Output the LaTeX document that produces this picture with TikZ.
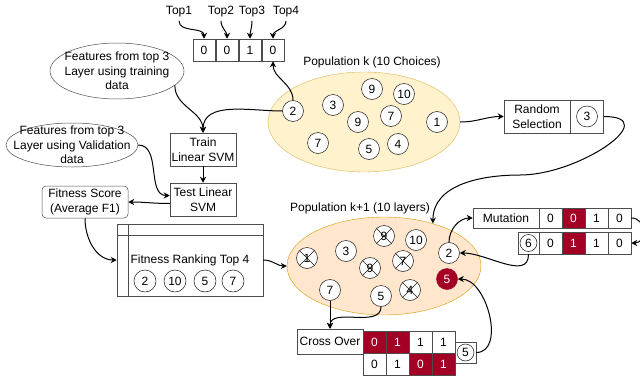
\documentclass[tikz,border=0pt]{standalone}
\usepackage{fontspec}
\setmainfont{Liberation Sans}
\usetikzlibrary{positioning, shapes.geometric, arrows.meta}
\definecolor{selred}{HTML}{A20025}
\definecolor{popfill}{HTML}{FFF2CC}
\definecolor{popline}{HTML}{D6B656}
\definecolor{nextfill}{HTML}{FFE6CC}
\definecolor{nextline}{HTML}{D79B00}

\begin{document}
\begin{tikzpicture}[x=1pt, y=1pt,
		every node/.style={font=\fontsize{12}{14.5}\selectfont},
		conn/.style={line width=1pt, -{Stealth[length=6pt,width=6pt,inset=2pt]}},
		box/.style={draw=black!70, line width=0.5pt, fill=white, align=center, inner sep=0pt},
		cell/.style={box, minimum width=23, minimum height=22},
		redcell/.style={cell, fill=selred, text=white},
		ind/.style={circle, draw=black!90, line width=0.5pt, fill=white, minimum size=21, inner sep=0pt},
		subind/.style={ind, minimum size=17},
		gone/.style={ind, path picture={\draw[black!90] (path picture bounding box.north west) -- (path picture bounding box.south east)
				(path picture bounding box.north east) -- (path picture bounding box.south west);}},
		picked/.style={ind, draw=selred, fill=selred, text=white},
		feat/.style={ellipse, draw=black!70, line width=0.5pt, minimum width=134, minimum height=56}
	]
	\useasboundingbox (0,0) rectangle (640,-375);

	% populations
	\node[ellipse, draw=popline, fill=popfill, minimum width=192, minimum height=100] (popk) at (364,-122) {};
	\node (popklbl) at (372,-62) {Population k (10 Choices)};
	\node[ellipse, draw=nextline, fill=nextfill, minimum width=194, minimum height=98] (popn) at (384,-266) {};
	\node (popnlbl) at (360,-208) {Population k+1 (10 layers)};

	% chosen layers
	\node (t1) at (179,-12) {Top1};
	\node (t2) at (221,-12) {Top2};
	\node (t3) at (252,-12) {Top3};
	\node (t4) at (286,-12) {Top4};
	\foreach \v [count=\i] in {0,0,1,0}
		\node[cell, minimum width=22] (b\i) at (181+23*\i,-50) {\v};

	% classifier
	\node[feat, label={[align=center]center:Features from top 3\\Layer using training\\data}] (ftrain) at (117,-71) {};
	\node[feat, minimum width=132, minimum height=44, label={[align=center]center:Features from top 3\\Layer using Validation\\data}] (fval) at (72,-145) {};
	\node[box, minimum width=66, minimum height=33] (train) at (203,-149.5) {Train\\Linear SVM};
	\node[box, minimum width=66, minimum height=33] (test) at (203,-199.5) {Test Linear\\SVM};
	\node[box, rounded corners=4pt, minimum width=86, minimum height=32] (score) at (85,-202) {Fitness Score\\(Average F1)};

	% ranking table
	\node[box, minimum width=146, minimum height=72] (rank) at (190,-260) {};
	\draw[black!70, line width=0.5pt] ([xshift=11pt]rank.north west) -- ([xshift=11pt]rank.south west)
		([yshift=-11pt]rank.north west) -- ([yshift=-11pt]rank.north east);
	\node (ranktxt) at (190,-260) {Fitness Ranking Top 4};
	\foreach \v/\x [count=\i] in {2/145,10/175,5/205,7/233}
		\node[ind, minimum size=22] (f\i) at (\x,-281) {\v};

	% population k
	\foreach \v/\x/\y [count=\i] in {2/293/111, 3/333/105, 9/372/89, 10/404/94, 9/358/122,
			7/391/116, 1/437/122, 7/318/143, 5/369/149, 4/398/144}
		\node[ind] (k\i) at (\x,-\y) {\v};

	\node[box, minimum width=66, minimum height=33] (rsel) at (537,-116.5) {Random\\Selection};
	\node[box, minimum width=33, minimum height=33, right=0pt of rsel] (rbox) {};
	\node[ind] (r3) at (rbox) {3};

	% population k+1
	\node[ind] (n3) at (346,-251) {3};
	\node[ind] (n10) at (416,-240) {10};
	\node[ind] (n2) at (449,-253) {2};
	\node[ind] (n7) at (330,-290) {7};
	\node[ind] (n5) at (381,-296) {5};
	\node[picked] (nr) at (447,-279) {5};
	\foreach \v/\x/\y [count=\i] in {1/307/258, 9/384/236, 9/370/268, 7/403/261, 4/410/290}
		\node[gone] (x\i) at (\x,-\y) {\v};

	% mutation
	\node[box, minimum width=66, minimum height=20] (mut) at (506,-218) {Mutation};
	\foreach \v/\s [count=\i] in {0/cell,0/redcell,1/cell,0/cell}
		\node[\s, minimum height=20] (m\i) at (527.5+23*\i,-218) {\v};
	\foreach \v/\s [count=\i] in {0/cell,1/redcell,1/cell,0/cell}
		\node[\s] (mm\i) at (527.5+23*\i,-243) {\v};
	\node[box, minimum width=21, minimum height=22] (m6box) at (528.5,-243) {};
	\node[subind] (m6) at (m6box) {6};

	% cross over
	\node[box, minimum width=66, minimum height=25] (cross) at (330,-341.5) {Cross Over};
	\foreach \v/\s [count=\i] in {0/redcell,1/redcell,1/cell,1/cell}
		\node[\s] (c\i) at (351.5+23*\i,-342) {\v};
	\foreach \v/\s [count=\i] in {0/cell,1/cell,0/redcell,1/redcell}
		\node[\s] (cc\i) at (351.5+23*\i,-364) {\v};
	\node[box, minimum width=21, minimum height=21] (c5box) at (465.5,-352.5) {};
	\node[subind] (c5) at (c5box) {5};

	% connectors
	\foreach \i in {1,...,4}
		\draw[conn] (t\i.south) to[out=-90,in=90] (b\i.north);
	\draw[conn] (ftrain.-14) to[out=-90,in=90] (train.north);
	\draw[conn] (k1.west) to[out=180,in=90] (train.north);
	\draw[conn] (k1.north) to[out=90,in=-90] (b4.south);
	\draw[conn] (train) -- (test);
	\draw[conn] (fval.east) to[out=0,in=180] ([yshift=4pt]test.west);
	\draw[conn] ([yshift=-4pt]test.west) to[out=180,in=0] (score.east);
	\draw[conn] (score.south) to[out=-90,in=180] (rank.west);
	\draw[conn] (rank.east) to[out=0,in=180] (popn.west);
	\draw[conn] (popk.east) to[out=0,in=180] (rsel.west);
	\coordinate (bend) at (520,-175);
	\draw[conn] (rbox.east) to[out=0,in=0,looseness=1.5] (bend) to[out=180,in=90] (popn.41);
	\draw[conn] (n2.north) to[out=90,in=180] (mut.west);
	\draw[conn] (m4.east) to[out=0,in=0,looseness=1.6] (mm4.east);
	\draw[conn] (m6box.south) to[out=-90,in=0] (n2.east);
	\draw[conn] (n7.south) -- (cross.north);
	\draw[conn] (n5.south) to[out=-90,in=90] (cross.north);
	\draw[conn] (c5box.east) to[out=0,in=0] (nr.east);
\end{tikzpicture}
\end{document}
